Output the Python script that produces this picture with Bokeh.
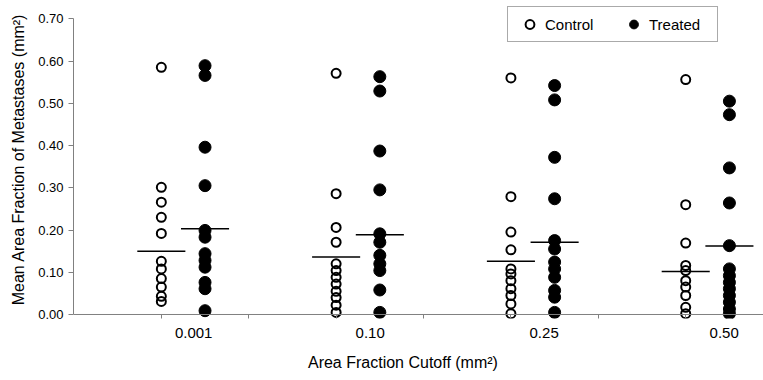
from bokeh.plotting import figure
from bokeh.models import FixedTicker, Span, Range1d, Legend, LegendItem, NumeralTickFormatter
from bokeh.embed import file_html
from bokeh.resources import INLINE

# ---- data ----
cutoffs = ["0.001", "0.10", "0.25", "0.50"]
control_values = [
    [0.585, 0.301, 0.266, 0.230, 0.192, 0.126, 0.108, 0.085, 0.065, 0.043, 0.031],
    [0.571, 0.286, 0.206, 0.171, 0.120, 0.104, 0.088, 0.072, 0.055, 0.040, 0.022, 0.005],
    [0.560, 0.279, 0.195, 0.153, 0.108, 0.096, 0.080, 0.061, 0.045, 0.025, 0.002],
    [0.556, 0.260, 0.169, 0.116, 0.104, 0.080, 0.065, 0.045, 0.017, 0.002],
]
treated_values = [
    [0.589, 0.566, 0.396, 0.305, 0.199, 0.183, 0.144, 0.128, 0.112, 0.076, 0.061, 0.009],
    [0.563, 0.529, 0.387, 0.295, 0.191, 0.171, 0.140, 0.120, 0.104, 0.058, 0.005],
    [0.542, 0.508, 0.372, 0.274, 0.175, 0.155, 0.124, 0.108, 0.088, 0.057, 0.041, 0.005],
    [0.505, 0.473, 0.347, 0.264, 0.163, 0.108, 0.092, 0.076, 0.061, 0.045, 0.029, 0.013, 0.002],
]
control_means = [0.150, 0.136, 0.126, 0.102]
treated_means = [0.203, 0.189, 0.171, 0.162]
y_ticks = [0.0, 0.1, 0.2, 0.3, 0.4, 0.5, 0.6, 0.7]

# ---- layout positions ----
control_x = [1 + 2 * i for i in range(len(cutoffs))]
treated_x = [c + 0.5 for c in control_x]
label_x = [round(c + d, 2) for c, d in zip(control_x, [0.37, 0.39, 0.38, 0.44])]
half_w = 0.275

cx, cy, tx, ty = [], [], [], []
for i in range(len(cutoffs)):
    cx += [control_x[i]] * len(control_values[i])
    cy += control_values[i]
    tx += [treated_x[i]] * len(treated_values[i])
    ty += treated_values[i]

FONT = "Liberation Sans"
GRAY = "#808080"

p = figure(width=763, height=380, output_backend="svg", toolbar_location=None,
           x_range=Range1d(-0.005, 7.89), y_range=Range1d(-0.00947, 0.7433),
           min_border_left=73, min_border_right=0, min_border_top=0, min_border_bottom=62)
p.outline_line_color = None
p.xgrid.visible = False
p.ygrid.visible = False
p.background_fill_color = "white"
p.border_fill_color = "white"

# y axis
ya = p.yaxis[0]
ya.ticker = FixedTicker(ticks=y_ticks, minor_ticks=[])
ya.formatter = NumeralTickFormatter(format="0.00")
ya.bounds = (0, 0.7)
ya.axis_line_color = GRAY
ya.major_tick_line_color = GRAY
ya.major_tick_out = 5
ya.major_tick_in = 0
ya.minor_tick_line_color = None
ya.major_label_standoff = 5
ya.major_label_text_font = FONT
ya.major_label_text_font_size = "13px"
ya.major_label_text_color = "black"
ya.axis_label = "Mean Area Fraction of Metastases (mm²)"
ya.axis_label_text_font = FONT
ya.axis_label_text_font_size = "16px"
ya.axis_label_text_font_style = "normal"
ya.axis_label_text_color = "black"
ya.axis_label_standoff = 8

# x axis: labels at category positions, tick marks between as minor ticks
xa = p.xaxis[0]
xa.ticker = FixedTicker(ticks=label_x, minor_ticks=list(range(1, 8)))
xa.major_label_overrides = {lx: lab for lx, lab in zip(label_x, cutoffs)}
xa.axis_line_color = None
xa.major_tick_line_color = None
xa.major_tick_out = 0
xa.major_tick_in = 0
xa.minor_tick_line_color = GRAY
xa.minor_tick_in = 4
xa.minor_tick_out = 0
xa.major_label_standoff = 9
xa.major_label_text_font = FONT
xa.major_label_text_font_size = "15px"
xa.major_label_text_color = "black"
# trailing no-break spaces shift the centred title left, as in the reference
xa.axis_label = "Area Fraction Cutoff (mm²)" + "\u00a0" * 7
xa.axis_label_text_font = FONT
xa.axis_label_text_font_size = "16px"
xa.axis_label_text_font_style = "normal"
xa.axis_label_text_color = "black"
xa.axis_label_standoff = 13

p.add_layout(Span(location=0, dimension="width", line_color=GRAY, line_width=1))

# means
p.segment(x0=[c - half_w for c in control_x], x1=[c + half_w for c in control_x],
          y0=control_means, y1=control_means, line_color="black", line_width=1.5)
p.segment(x0=[t - half_w for t in treated_x], x1=[t + half_w for t in treated_x],
          y0=treated_means, y1=treated_means, line_color="black", line_width=1.5)

rc = p.scatter(cx, cy, size=9, fill_color=None, line_color="black", line_width=2)
rt = p.scatter(tx, ty, size=12, fill_color="black", line_color="black", line_width=1)

legend = Legend(items=[LegendItem(label="Control", renderers=[rc]),
                       LegendItem(label="Treated", renderers=[rt])],
                location=(434, 276), orientation="horizontal", padding=6, spacing=11,
                glyph_width=31, glyph_height=22, label_height=22, label_width=62,
                label_standoff=0, label_text_font=FONT, label_text_font_size="15px",
                label_text_color="black", border_line_color="#555555", border_line_width=1,
                background_fill_color="white", background_fill_alpha=1.0, margin=0)
p.add_layout(legend)

open("out.html", "w").write(file_html(p, INLINE))
